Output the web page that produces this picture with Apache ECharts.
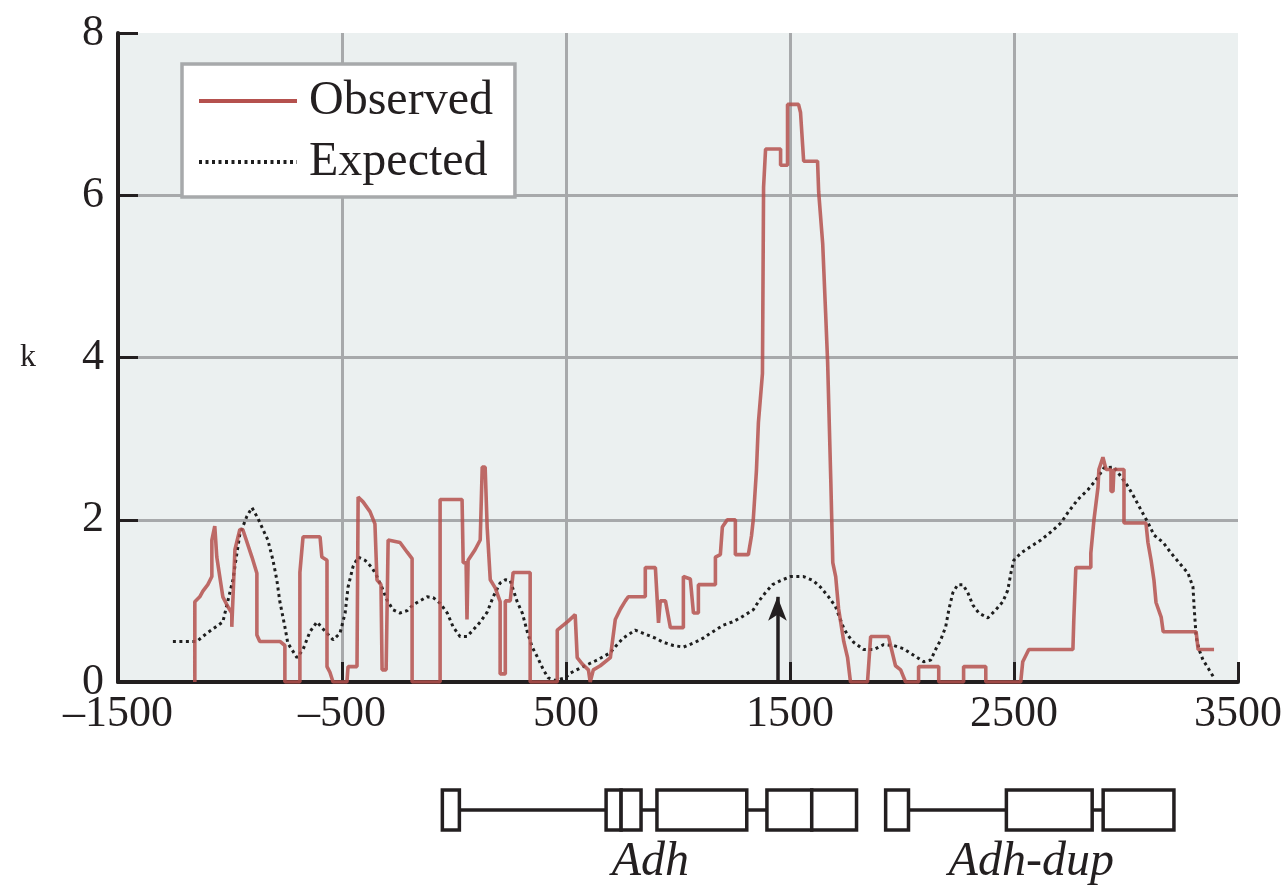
<!DOCTYPE html>
<html>
<head>
<meta charset="utf-8">
<script src="https://cdn.jsdelivr.net/npm/echarts@6/dist/echarts.min.js"></script>
<style>
html,body{margin:0;padding:0;background:#fff;}
#chart{width:1288px;height:888px;}
</style>
</head>
<body>
<div id="chart"></div>
<script>
// ---- data ----
const xTicks = [-1500, -500, 500, 1500, 2500, 3500];
const xTickLabels = ['\u20131500', '\u2013500', '500', '1500', '2500', '3500'];
const yTicks = [0, 2, 4, 6, 8];

const observed = [
  [-1157,0],[-1157,0.99],[-1135,1.05],[-1121,1.12],[-1099,1.2],[-1081,1.3],[-1081,1.75],[-1068,1.92],[-1059,1.54],
  [-1032,1.05],[-1010,0.93],[-992,0.85],[-992,0.68],[-978,1.63],[-956,1.88],[-943,1.88],[-902,1.54],[-880,1.34],
  [-880,0.58],[-867,0.5],[-777,0.5],[-755,0.45],[-755,0],[-688,0],[-688,1.35],[-674,1.79],[-598,1.79],[-590,1.54],
  [-567,1.5],[-567,0.19],[-554,0.12],[-540,0],[-478,0],[-473,0.19],[-433,0.19],[-428,2.28],[-406,2.22],[-375,2.1],
  [-353,1.95],[-344,1.26],[-326,1.2],[-321,0.15],[-303,0.15],[-294,1.75],[-241,1.72],[-209,1.6],[-187,1.52],[-187,0],
  [-62,0],[-62,2.25],[36,2.25],[41,1.47],[54,1.47],[58,0.77],[63,1.5],[94,1.63],[117,1.75],[126,2.65],[139,2.65],
  [148,1.91],[162,1.26],[184,1.16],[206,0.99],[206,0.1],[229,0.1],[229,1.0],[251,1.0],[264,1.35],[340,1.35],[340,0],
  [461,0],[461,0.64],[488,0.7],[510,0.75],[541,0.83],[550,0.3],[573,0.22],[600,0.15],[608,0],[622,0.15],[653,0.2],
  [698,0.3],[720,0.77],[743,0.9],[765,1.0],[778,1.05],[854,1.05],[854,1.41],[899,1.41],[913,0.73],[921,1.0],[944,1.0],
  [966,0.67],[1024,0.67],[1024,1.3],[1055,1.27],[1069,0.85],[1091,0.85],[1091,1.2],[1167,1.2],[1167,1.54],[1189,1.57],
  [1198,1.91],[1220,2.0],[1256,2.0],[1256,1.57],[1314,1.57],[1328,1.8],[1336,2.0],[1350,2.6],[1359,3.2],[1377,3.8],
  [1382,6.1],[1391,6.57],[1458,6.57],[1458,6.37],[1489,6.37],[1489,7.12],[1538,7.12],[1547,7.02],[1561,6.42],
  [1623,6.42],[1628,6.04],[1646,5.4],[1659,4.55],[1668,3.94],[1682,2.5],[1691,1.47],[1704,1.3],[1717,0.9],[1740,0.5],
  [1757,0.3],[1770,0],[1846,0],[1860,0.56],[1940,0.56],[1949,0.45],[1971,0.2],[1994,0.15],[2016,0],[2074,0],
  [2074,0.19],[2164,0.19],[2164,0],[2275,0],[2275,0.19],[2374,0.19],[2374,0],[2530,0],[2539,0.25],[2566,0.4],
  [2763,0.4],[2767,0.77],[2776,1.41],[2843,1.41],[2843,1.59],[2857,2.0],[2875,2.4],[2879,2.62],[2897,2.77],
  [2911,2.62],[2933,2.62],[2933,2.35],[2942,2.35],[2946,2.62],[2991,2.62],[2991,1.96],[3089,1.96],[3098,1.72],
  [3112,1.5],[3125,1.25],[3134,0.98],[3157,0.8],[3166,0.62],[3313,0.62],[3322,0.4],[3393,0.4]
];

const expected = [
  [-1255,0.5],[-1148,0.5],[-1104,0.6],[-1032,0.74],[-987,1.26],[-969,1.59],[-956,1.82],[-925,2.04],[-902,2.15],
  [-876,2.02],[-831,1.75],[-808,1.5],[-791,1.26],[-778,1.0],[-755,0.68],[-742,0.48],[-701,0.3],[-674,0.4],
  [-643,0.62],[-612,0.74],[-567,0.6],[-540,0.52],[-509,0.6],[-486,0.85],[-473,1.17],[-451,1.42],[-428,1.54],
  [-397,1.5],[-366,1.41],[-344,1.3],[-321,1.16],[-299,1.01],[-272,0.89],[-241,0.85],[-209,0.88],[-183,0.95],
  [-152,1.0],[-120,1.05],[-93,1.04],[-62,0.97],[-30,0.85],[-4,0.68],[27,0.56],[58,0.56],[85,0.64],[117,0.74],
  [148,0.86],[175,1.05],[206,1.22],[229,1.26],[251,1.25],[282,0.99],[305,0.85],[327,0.62],[349,0.43],[372,0.31],
  [399,0.15],[421,0.05],[452,0.02],[497,0.05],[519,0.11],[577,0.19],[639,0.27],[697,0.36],[728,0.46],[755,0.54],
  [809,0.64],[845,0.6],[899,0.54],[934,0.49],[979,0.45],[1024,0.43],[1077,0.49],[1112,0.54],[1144,0.6],[1202,0.7],
  [1242,0.74],[1278,0.79],[1336,0.89],[1359,0.99],[1390,1.1],[1422,1.2],[1458,1.25],[1502,1.3],[1560,1.3],
  [1604,1.25],[1636,1.17],[1672,1.05],[1703,0.93],[1725,0.77],[1739,0.67],[1757,0.58],[1784,0.49],[1829,0.4],
  [1874,0.4],[1918,0.46],[1963,0.45],[2007,0.41],[2052,0.33],[2097,0.25],[2128,0.27],[2150,0.4],[2173,0.52],
  [2195,0.68],[2209,0.89],[2227,1.1],[2249,1.2],[2272,1.2],[2294,1.1],[2316,0.95],[2343,0.85],[2383,0.79],
  [2419,0.89],[2450,0.99],[2472,1.13],[2486,1.34],[2499,1.5],[2531,1.59],[2575,1.67],[2620,1.75],[2665,1.85],
  [2709,1.96],[2741,2.09],[2785,2.25],[2830,2.37],[2866,2.49],[2902,2.64],[2946,2.65],[2978,2.53],[3009,2.41],
  [3036,2.28],[3067,2.12],[3099,1.96],[3125,1.81],[3166,1.72],[3201,1.59],[3237,1.47],[3277,1.34],[3299,1.17],
  [3304,0.93],[3313,0.56],[3326,0.4],[3344,0.27],[3367,0.17],[3393,0.05]
];

const arrowX = 1444;
const arrowTop = 1.05;

// gene structure (start, end) in sequence coordinates
const geneLines = [[-52, 1797], [1927, 3214]];
const geneBoxes = [[-52, 24], [679, 746], [746, 835], [906, 1307], [1397, 1597], [1597, 1797],
                   [1927, 2029], [2466, 2849], [2898, 3214]];
const geneNames = [['Adh', 877], ['Adh-dup', 2577]];

// ---- chart ----
const serif = '"Liberation Serif", "Times New Roman", serif';
const ink = '#231f20';
const chart = echarts.init(document.getElementById('chart'), null, {renderer: 'canvas'});

const option = {
  backgroundColor: '#ffffff',
  animation: false,
  grid: [
    {left: 118, top: 33, width: 1120, height: 649, show: true, backgroundColor: '#ebf0f0', borderWidth: 0},
    {left: 118, top: 790, width: 1120, height: 40, show: false}
  ],
  legend: {
    orient: 'vertical', left: 182, top: 64,
    backgroundColor: '#ffffff', borderColor: '#a7a9ab', borderWidth: 3.5,
    padding: [13, 22, 11, 15],
    itemWidth: 98, itemHeight: 14, itemGap: 13,
    itemStyle: {opacity: 0},
    lineStyle: {width: 4, opacity: 1},
    textStyle: {fontFamily: serif, fontSize: 48, lineHeight: 48, color: ink, padding: [0, 0, 0, 7]},
    data: ['Observed', 'Expected']
  },
  xAxis: [
    {
      type: 'value', gridIndex: 0, min: -1500, max: 3500, interval: 1000,
      axisLine: {show: true, onZero: false, lineStyle: {color: ink, width: 4}},
      axisTick: {show: true, inside: true, length: 20, lineStyle: {color: ink, width: 3}},
      axisLabel: {
        margin: 10, fontFamily: serif, fontSize: 44, color: ink,
        formatter: v => { const i = xTicks.indexOf(v); return i >= 0 ? xTickLabels[i] : ''; }
      },
      splitLine: {show: true, showMinLine: false, showMaxLine: false, lineStyle: {color: '#a7a9ab', width: 3}}
    },
    {type: 'value', gridIndex: 1, min: -1500, max: 3500, show: false}
  ],
  yAxis: [
    {
      type: 'value', gridIndex: 0, min: 0, max: 8, interval: 2,
      name: 'k', nameLocation: 'middle', nameRotate: 0, nameGap: 82,
      nameTextStyle: {fontFamily: serif, fontSize: 32, color: ink},
      axisLine: {show: true, onZero: false, lineStyle: {color: ink, width: 4}},
      axisTick: {show: true, inside: true, length: 20, lineStyle: {color: ink, width: 3}},
      axisLabel: {margin: 14, fontFamily: serif, fontSize: 44, color: ink},
      splitLine: {show: true, showMinLine: false, showMaxLine: false, lineStyle: {color: '#a7a9ab', width: 3}}
    },
    {type: 'value', gridIndex: 1, min: 0, max: 1, show: false}
  ],
  series: [
    {
      name: 'Expected', type: 'line', xAxisIndex: 0, yAxisIndex: 0, data: expected,
      showSymbol: false, symbol: 'none', z: 3,
      lineStyle: {color: '#1e1e1e', width: 3, type: [3, 3.5]},
      itemStyle: {color: '#1e1e1e'},
      markLine: {
        silent: true, symbol: ['none', 'arrow'], symbolSize: [14, 24],
        label: {show: false},
        lineStyle: {color: ink, width: 3.5, type: 'solid'},
        data: [[{coord: [arrowX, 0]}, {coord: [arrowX, arrowTop]}]]
      }
    },
    {
      name: 'Observed', type: 'line', xAxisIndex: 0, yAxisIndex: 0, data: observed,
      showSymbol: false, symbol: 'none', z: 4,
      lineStyle: {color: '#b5514e', width: 3.6, opacity: 0.85},
      itemStyle: {color: '#b5514e'}
    },
    {
      type: 'custom', xAxisIndex: 1, yAxisIndex: 1, data: geneLines, z: 2, silent: true,
      renderItem: (params, api) => {
        const a = api.coord([api.value(0), 0.5]);
        const b = api.coord([api.value(1), 0.5]);
        return {type: 'line', shape: {x1: a[0], y1: a[1], x2: b[0], y2: b[1]},
                style: {stroke: ink, lineWidth: 3.5}};
      }
    },
    {
      type: 'custom', xAxisIndex: 1, yAxisIndex: 1, data: geneBoxes, z: 3, silent: true,
      renderItem: (params, api) => {
        const a = api.coord([api.value(0), 1]);
        const b = api.coord([api.value(1), 0]);
        return {type: 'rect', shape: {x: a[0], y: a[1], width: b[0] - a[0], height: b[1] - a[1]},
                style: {fill: '#ffffff', stroke: ink, lineWidth: 3.5}};
      }
    },
    {
      type: 'custom', xAxisIndex: 1, yAxisIndex: 1, data: geneNames.map(g => [g[1], -0.8, g[0]]), z: 3, silent: true,
      renderItem: (params, api) => {
        const p = api.coord([api.value(0), api.value(1)]);
        return {type: 'text', x: p[0], y: p[1],
                style: {text: geneNames[params.dataIndex][0], fill: ink, align: 'center', verticalAlign: 'middle',
                        font: 'italic 48px ' + serif}};
      }
    }
  ]
};
chart.setOption(option);
</script>
</body>
</html>
